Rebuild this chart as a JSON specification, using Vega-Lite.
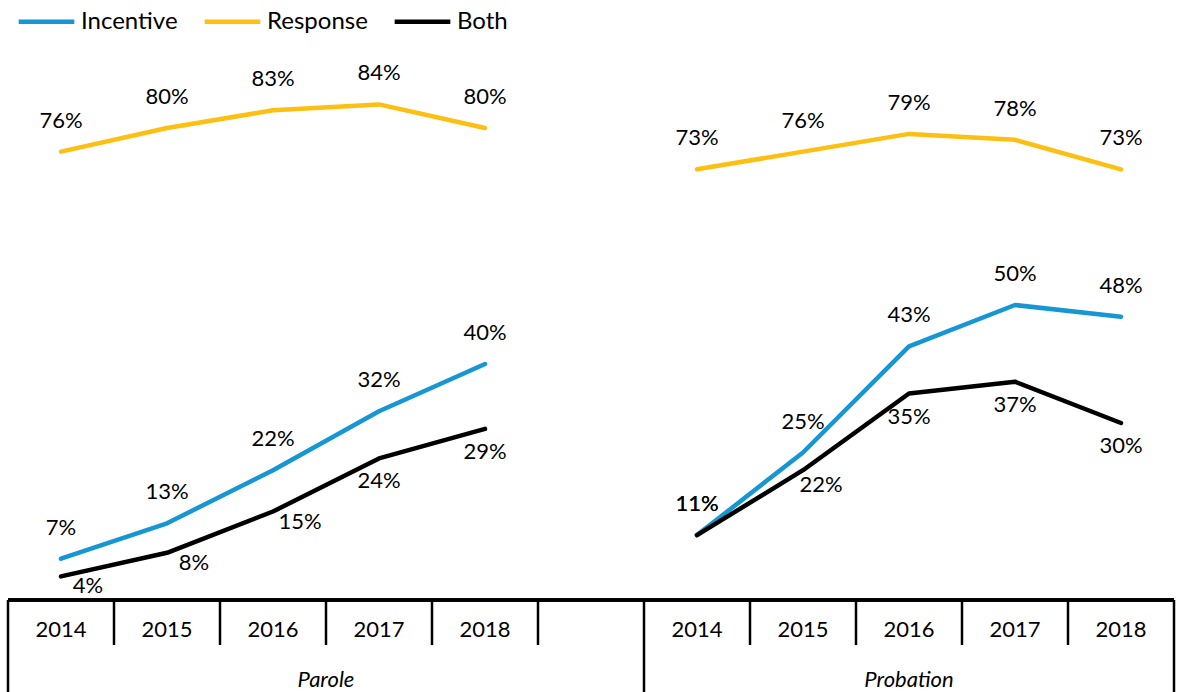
{
  "$schema": "https://vega.github.io/schema/vega-lite/v6.json",
  "width": 1166,
  "height": 692,
  "padding": {"left": 8, "top": 0, "right": 3, "bottom": 0},
  "autosize": {"type": "none"},
  "background": "white",
  "config": {"view": {"stroke": null}, "font": "Lato"},
  "datasets": {
    "series": [
      {"group": "Parole", "year": "2014", "slot": "Parole 2014", "series": "Response", "value": 0.76},
      {"group": "Parole", "year": "2015", "slot": "Parole 2015", "series": "Response", "value": 0.80},
      {"group": "Parole", "year": "2016", "slot": "Parole 2016", "series": "Response", "value": 0.83},
      {"group": "Parole", "year": "2017", "slot": "Parole 2017", "series": "Response", "value": 0.84},
      {"group": "Parole", "year": "2018", "slot": "Parole 2018", "series": "Response", "value": 0.80},
      {"group": "Probation", "year": "2014", "slot": "Probation 2014", "series": "Response", "value": 0.73},
      {"group": "Probation", "year": "2015", "slot": "Probation 2015", "series": "Response", "value": 0.76},
      {"group": "Probation", "year": "2016", "slot": "Probation 2016", "series": "Response", "value": 0.79},
      {"group": "Probation", "year": "2017", "slot": "Probation 2017", "series": "Response", "value": 0.78},
      {"group": "Probation", "year": "2018", "slot": "Probation 2018", "series": "Response", "value": 0.73},
      {"group": "Parole", "year": "2014", "slot": "Parole 2014", "series": "Incentive", "value": 0.07},
      {"group": "Parole", "year": "2015", "slot": "Parole 2015", "series": "Incentive", "value": 0.13},
      {"group": "Parole", "year": "2016", "slot": "Parole 2016", "series": "Incentive", "value": 0.22},
      {"group": "Parole", "year": "2017", "slot": "Parole 2017", "series": "Incentive", "value": 0.32},
      {"group": "Parole", "year": "2018", "slot": "Parole 2018", "series": "Incentive", "value": 0.40},
      {"group": "Probation", "year": "2014", "slot": "Probation 2014", "series": "Incentive", "value": 0.11},
      {"group": "Probation", "year": "2015", "slot": "Probation 2015", "series": "Incentive", "value": 0.25},
      {"group": "Probation", "year": "2016", "slot": "Probation 2016", "series": "Incentive", "value": 0.43},
      {"group": "Probation", "year": "2017", "slot": "Probation 2017", "series": "Incentive", "value": 0.50},
      {"group": "Probation", "year": "2018", "slot": "Probation 2018", "series": "Incentive", "value": 0.48},
      {"group": "Parole", "year": "2014", "slot": "Parole 2014", "series": "Both", "value": 0.04},
      {"group": "Parole", "year": "2015", "slot": "Parole 2015", "series": "Both", "value": 0.08},
      {"group": "Parole", "year": "2016", "slot": "Parole 2016", "series": "Both", "value": 0.15},
      {"group": "Parole", "year": "2017", "slot": "Parole 2017", "series": "Both", "value": 0.24},
      {"group": "Parole", "year": "2018", "slot": "Parole 2018", "series": "Both", "value": 0.29},
      {"group": "Probation", "year": "2014", "slot": "Probation 2014", "series": "Both", "value": 0.11},
      {"group": "Probation", "year": "2015", "slot": "Probation 2015", "series": "Both", "value": 0.22},
      {"group": "Probation", "year": "2016", "slot": "Probation 2016", "series": "Both", "value": 0.35},
      {"group": "Probation", "year": "2017", "slot": "Probation 2017", "series": "Both", "value": 0.37},
      {"group": "Probation", "year": "2018", "slot": "Probation 2018", "series": "Both", "value": 0.30}
    ],
    "slots": [
      {"slot": "Parole 2014", "group": "Parole", "year": "2014"},
      {"slot": "Parole 2015", "group": "Parole", "year": "2015"},
      {"slot": "Parole 2016", "group": "Parole", "year": "2016"},
      {"slot": "Parole 2017", "group": "Parole", "year": "2017"},
      {"slot": "Parole 2018", "group": "Parole", "year": "2018"},
      {"slot": "Parole gap", "group": "Parole", "year": ""},
      {"slot": "Probation 2014", "group": "Probation", "year": "2014"},
      {"slot": "Probation 2015", "group": "Probation", "year": "2015"},
      {"slot": "Probation 2016", "group": "Probation", "year": "2016"},
      {"slot": "Probation 2017", "group": "Probation", "year": "2017"},
      {"slot": "Probation 2018", "group": "Probation", "year": "2018"}
    ]
  },
  "encoding": {
    "x": {
      "field": "slot",
      "type": "nominal",
      "axis": null,
      "sort": null,
      "scale": {
        "type": "band",
        "domain": ["Parole 2014", "Parole 2015", "Parole 2016", "Parole 2017", "Parole 2018", "Parole gap", "Probation 2014", "Probation 2015", "Probation 2016", "Probation 2017", "Probation 2018"],
        "paddingInner": 0,
        "paddingOuter": 0
      }
    }
  },
  "layer": [
    {
      "data": {"name": "series"},
      "mark": {"type": "line", "strokeWidth": 4.5, "strokeCap": "round", "strokeJoin": "round"},
      "encoding": {
        "y": {"field": "value", "type": "quantitative", "axis": null, "scale": {"domain": [-0.15593, 1.01695], "nice": false, "zero": false}},
        "color": {
          "field": "series",
          "type": "nominal",
          "scale": {"domain": ["Incentive", "Response", "Both"], "range": ["#1696d2", "#fdbf11", "#000000"]},
          "legend": {
            "orient": "none",
            "legendX": 8,
            "legendY": -9,
            "direction": "horizontal",
            "title": null,
            "padding": 0,
            "symbolType": "stroke",
            "symbolSize": 3100,
            "symbolStrokeWidth": 4.5,
            "labelFont": "Lato",
            "labelFontSize": 24,
            "labelColor": "#000000",
            "labelOffset": 4,
            "columnPadding": 17,
            "labelLimit": 300
          }
        },
        "detail": {"field": "group"},
        "order": {"field": "year"}
      }
    },
    {
      "data": {"name": "series"},
      "transform": [{"filter": "datum.series != 'Both' || datum.slot == 'Probation 2014'"}],
      "mark": {"type": "text", "font": "Lato", "fontSize": 22, "color": "#000000", "baseline": "middle", "dy": -31},
      "encoding": {
        "y": {"field": "value", "type": "quantitative"},
        "text": {"field": "value", "type": "quantitative", "format": ".0%"}
      }
    },
    {
      "data": {"name": "series"},
      "transform": [{"filter": "datum.series == 'Both' && datum.group == 'Parole' && datum.year <= '2016'"}],
      "mark": {"type": "text", "font": "Lato", "fontSize": 22, "color": "#000000", "baseline": "middle", "dx": 27, "dy": 10},
      "encoding": {
        "y": {"field": "value", "type": "quantitative"},
        "text": {"field": "value", "type": "quantitative", "format": ".0%"}
      }
    },
    {
      "data": {"name": "series"},
      "transform": [{"filter": "datum.series == 'Both' && datum.slot == 'Probation 2015'"}],
      "mark": {"type": "text", "font": "Lato", "fontSize": 22, "color": "#000000", "baseline": "middle", "dx": 18, "dy": 15},
      "encoding": {
        "y": {"field": "value", "type": "quantitative"},
        "text": {"field": "value", "type": "quantitative", "format": ".0%"}
      }
    },
    {
      "data": {"name": "series"},
      "transform": [{"filter": "datum.series == 'Both' && datum.slot != 'Probation 2014' && datum.slot != 'Probation 2015' && !(datum.group == 'Parole' && datum.year <= '2016')"}],
      "mark": {"type": "text", "font": "Lato", "fontSize": 22, "color": "#000000", "baseline": "middle", "dy": 23},
      "encoding": {
        "y": {"field": "value", "type": "quantitative"},
        "text": {"field": "value", "type": "quantitative", "format": ".0%"}
      }
    },
    {
      "data": {"name": "slots"},
      "mark": {"type": "rule", "color": "#000000", "strokeWidth": 2.5},
      "encoding": {
        "x": null,
        "y": {"datum": 0}
      }
    },
    {
      "data": {"name": "slots"},
      "transform": [{"filter": "datum.year != '2014'"}],
      "mark": {"type": "rule", "color": "#000000", "strokeWidth": 2.5},
      "encoding": {
        "x": {"field": "slot", "type": "nominal", "bandPosition": 0},
        "y": {"datum": 0},
        "y2": {"datum": -0.0763}
      }
    },
    {
      "data": {"name": "slots"},
      "transform": [{"filter": "datum.year == '2014'"}],
      "mark": {"type": "rule", "color": "#000000", "strokeWidth": 2.5},
      "encoding": {
        "x": {"field": "slot", "type": "nominal", "bandPosition": 0},
        "y": {"datum": 0},
        "y2": {"datum": -0.15593}
      }
    },
    {
      "data": {"name": "slots"},
      "transform": [{"filter": "datum.slot == 'Probation 2018'"}],
      "mark": {"type": "rule", "color": "#000000", "strokeWidth": 2.5},
      "encoding": {
        "x": {"field": "slot", "type": "nominal", "bandPosition": 1},
        "y": {"datum": 0},
        "y2": {"datum": -0.15593}
      }
    },
    {
      "data": {"name": "slots"},
      "mark": {"type": "text", "font": "Lato", "fontSize": 22, "color": "#000000", "baseline": "middle"},
      "encoding": {
        "y": {"datum": -0.05},
        "text": {"field": "year", "type": "nominal"}
      }
    },
    {
      "data": {"name": "slots"},
      "transform": [{"filter": "datum.slot == 'Parole 2017'"}],
      "mark": {"type": "text", "font": "Lato", "fontSize": 22, "fontStyle": "italic", "color": "#000000", "baseline": "alphabetic"},
      "encoding": {
        "x": {"field": "slot", "type": "nominal", "bandPosition": 0},
        "y": {"datum": -0.1478},
        "text": {"field": "group", "type": "nominal"}
      }
    },
    {
      "data": {"name": "slots"},
      "transform": [{"filter": "datum.slot == 'Probation 2016'"}],
      "mark": {"type": "text", "font": "Lato", "fontSize": 22, "fontStyle": "italic", "color": "#000000", "baseline": "alphabetic"},
      "encoding": {
        "y": {"datum": -0.1478},
        "text": {"field": "group", "type": "nominal"}
      }
    }
  ]
}
